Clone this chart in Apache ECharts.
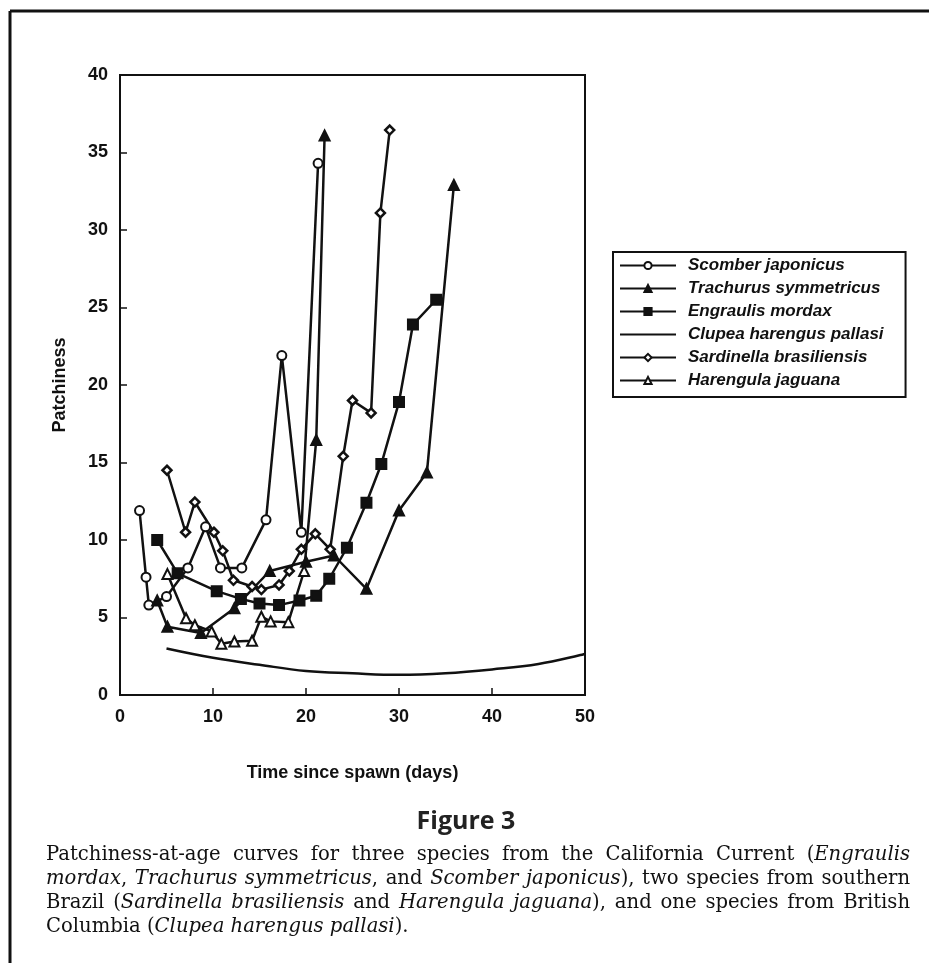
<!DOCTYPE html>
<html>
<head>
<meta charset="utf-8">
<script src="https://cdn.jsdelivr.net/npm/echarts@6/dist/echarts.min.js"></script>
<style>
html,body{margin:0;padding:0;background:#fff;}
#chart{width:929px;height:963px;}
</style>
</head>
<body>
<div id="chart"></div>
<script>
// ---- data ----
const seriesNames = ["Scomber japonicus","Trachurus symmetricus","Engraulis mordax","Clupea harengus pallasi","Sardinella brasiliensis","Harengula jaguana"];

const scomberX = [2.1, 2.8, 3.1, 5.0, 7.3, 9.2, 10.8, 13.1, 15.7, 17.4, 19.5, 21.3];
const scomberY = [11.9, 7.6, 5.8, 6.35, 8.2, 10.85, 8.2, 8.2, 11.3, 21.9, 10.5, 34.3];

const trachurusX = [4.0, 5.1, 8.7, 12.3, 16.1, 20.0, 23.0, 26.5, 30.0, 33.0, 35.9];
const trachurusY = [6.1, 4.4, 4.0, 5.6, 8.0, 8.6, 9.0, 6.85, 11.9, 14.35, 32.9];

const engraulisX = [4.0, 6.2, 10.4, 13.0, 15.0, 17.1, 19.3, 21.1, 22.5, 24.4, 26.5, 28.1, 30.0, 31.5, 34.0];
const engraulisY = [10.0, 7.85, 6.7, 6.2, 5.9, 5.8, 6.1, 6.4, 7.5, 9.5, 12.4, 14.9, 18.9, 23.9, 25.5];

const clupeaX = [5, 10, 15, 20, 25, 30, 35, 40, 45, 50];
const clupeaY = [3.0, 2.4, 1.95, 1.55, 1.4, 1.3, 1.4, 1.65, 2.0, 2.65];

const sardinellaX = [5.05, 7.05, 8.05, 10.1, 11.05, 12.2, 14.2, 15.2, 17.1, 18.2, 19.5, 21.0, 22.6, 24.0, 25.0, 27.0, 28.0, 29.0];
const sardinellaY = [14.5, 10.5, 12.45, 10.5, 9.3, 7.4, 7.0, 6.8, 7.1, 8.0, 9.4, 10.4, 9.4, 15.4, 19.0, 18.2, 31.1, 36.45];

const harengulaX = [5.1, 7.1, 8.05, 9.85, 10.9, 12.3, 14.2, 15.2, 16.2, 18.1, 19.8, 21.1, 22.0];
const harengulaY = [7.8, 4.95, 4.5, 4.1, 3.3, 3.45, 3.5, 5.05, 4.75, 4.7, 8.0, 16.45, 36.1];
const harengulaFilledFrom = 11; // last two markers printed solid

const xTicks = [0, 10, 20, 30, 40, 50];
const yTicks = [0, 5, 10, 15, 20, 25, 30, 35, 40];

const xTitle = "Time since spawn (days)";
const yTitle = "Patchiness";
const figureLabel = "Figure 3";
const captionLines = [
  "Patchiness-at-age curves for three species from the California Current (*Engraulis*",
  "*mordax*, *Trachurus symmetricus*, and *Scomber japonicus*), two species from southern",
  "Brazil (*Sardinella brasiliensis* and *Harengula jaguana*), and one species from British",
  "Columbia (*Clupea harengus pallasi*)."
];

// ---- build ----
const zip = (xs, ys) => xs.map((x, i) => [x, ys[i]]);
const axisFont = 'Liberation Sans';
const black = '#111';

function lineSeries(name, data, symbol, size, fill) {
  return {
    name, type: 'line', data, symbol: symbol, symbolSize: size,
    showSymbol: symbol !== 'none',
    lineStyle: { color: black, width: 2.5 },
    itemStyle: { color: fill, borderColor: black, borderWidth: 2 },
    emphasis: { disabled: true },
    animation: false, z: 3
  };
}

const harData = zip(harengulaX, harengulaY).map((p, i) =>
  i >= harengulaFilledFrom ? { value: p, itemStyle: { color: black } } : p);

const series = [
  lineSeries(seriesNames[0], zip(scomberX, scomberY), 'circle', 9, '#fff'),
  lineSeries(seriesNames[1], zip(trachurusX, trachurusY), 'triangle', 10, black),
  lineSeries(seriesNames[2], zip(engraulisX, engraulisY), 'rect', 10, black),
  Object.assign(lineSeries(seriesNames[3], zip(clupeaX, clupeaY), 'none', 0, black), { smooth: 0.4 }),
  lineSeries(seriesNames[4], zip(sardinellaX, sardinellaY), 'diamond', 9, '#fff'),
  lineSeries(seriesNames[5], harData, 'triangle', 10, '#fff')
];
series[4].itemStyle.borderWidth = 2.5;

// caption words, justified; font size fitted to the text block width
const measureCtx = document.createElement('canvas').getContext('2d');
const capFamily = '"DejaVu Serif", serif';
const capLeft = 46, capRight = 910, capTop = 855, capStep = 24;
let capSize = 16;
function capFont(it) { return (it ? 'italic ' : '') + capSize + 'px ' + capFamily; }
function parseLines() {
  let italic = false;
  return captionLines.map(line => line.split(' ').map(w => {
    const frags = [];
    let cur = '';
    for (const ch of w) {
      if (ch === '*') { if (cur) frags.push({ t: cur, it: italic }); cur = ''; italic = !italic; }
      else cur += ch;
    }
    if (cur) frags.push({ t: cur, it: italic });
    frags.forEach(f => { measureCtx.font = capFont(f.it); f.w = measureCtx.measureText(f.t).width; });
    return { frags, w: frags.reduce((s, f) => s + f.w, 0) };
  }));
}
function naturalWidth(words) {
  measureCtx.font = capFont(false);
  const sp = measureCtx.measureText(' ').width;
  return words.reduce((s, w) => s + w.w, 0) + sp * (words.length - 1);
}
let parsed = parseLines();
const maxNat = Math.max(...parsed.slice(0, 3).map(naturalWidth));
capSize = Math.round(capSize * (capRight - capLeft) / maxNat * 0.985 * 10) / 10;
parsed = parseLines();

const graphics = [];
parsed.forEach((words, li) => {
  const total = words.reduce((s, w) => s + w.w, 0);
  measureCtx.font = capFont(false);
  const spaceW = measureCtx.measureText(' ').width;
  const last = li === parsed.length - 1;
  const gap = last ? spaceW : (capRight - capLeft - total) / (words.length - 1);
  let x = capLeft;
  const y = capTop + li * capStep;
  words.forEach(w => {
    w.frags.forEach(f => {
      graphics.push({ type: 'text', x, y, silent: true,
        style: { text: f.t, font: capFont(f.it), fill: black, textVerticalAlign: 'middle' } });
      x += f.w;
    });
    x += gap;
  });
});

graphics.push(
  { type: 'line', shape: { x1: 10, y1: 11, x2: 10, y2: 963 }, style: { stroke: black, lineWidth: 3 }, silent: true },
  { type: 'line', shape: { x1: 10, y1: 11, x2: 929, y2: 11 }, style: { stroke: black, lineWidth: 3 }, silent: true },
  { type: 'text', x: 466, y: 822, silent: true,
    style: { text: figureLabel, font: 'bold 25px "Open Sans"', fill: '#222', textAlign: 'center', textVerticalAlign: 'middle' } }
);

const legendData = seriesNames.map((n, i) =>
  i === 3 ? { name: n, itemStyle: { opacity: 0 } } : n);

const option = {
  backgroundColor: '#fff',
  animation: false,
  grid: { left: 120, top: 75, width: 465, height: 620, show: true, borderColor: black, borderWidth: 2, backgroundColor: 'transparent' },
  xAxis: {
    type: 'value', min: xTicks[0], max: xTicks[xTicks.length - 1], interval: xTicks[1] - xTicks[0],
    name: xTitle, nameLocation: 'middle', nameGap: 69,
    nameTextStyle: { fontFamily: axisFont, fontWeight: 'bold', fontSize: 18, color: black },
    axisLine: { lineStyle: { color: black, width: 2 } },
    axisTick: { inside: true, length: 7, lineStyle: { color: black, width: 1.5 } },
    axisLabel: { fontFamily: axisFont, fontWeight: 'bold', fontSize: 18, color: black, margin: 13 },
    splitLine: { show: false }
  },
  yAxis: {
    type: 'value', min: yTicks[0], max: yTicks[yTicks.length - 1], interval: yTicks[1] - yTicks[0],
    name: yTitle, nameLocation: 'middle', nameGap: 51, nameRotate: 90,
    nameTextStyle: { fontFamily: axisFont, fontWeight: 'bold', fontSize: 18, color: black },
    axisLine: { lineStyle: { color: black, width: 2 } },
    axisTick: { inside: true, length: 7, lineStyle: { color: black, width: 1.5 } },
    axisLabel: { fontFamily: axisFont, fontWeight: 'bold', fontSize: 18, color: black, margin: 12 },
    splitLine: { show: false }
  },
  legend: {
    orient: 'vertical', left: 613, top: 252,
    data: legendData,
    itemWidth: 56, itemHeight: 9, itemGap: 6,
    padding: [5, 22, 8, 6],
    borderColor: black, borderWidth: 2, borderRadius: 0,
    selectedMode: false,
    textStyle: { fontFamily: axisFont, fontWeight: 'bold', fontStyle: 'italic', fontSize: 17, lineHeight: 14, color: black, padding: [0, 0, 0, 7] }
  },
  graphic: graphics,
  series
};

const chart = echarts.init(document.getElementById('chart'), null, { renderer: 'canvas' });
chart.setOption(option);
</script>
</body>
</html>
